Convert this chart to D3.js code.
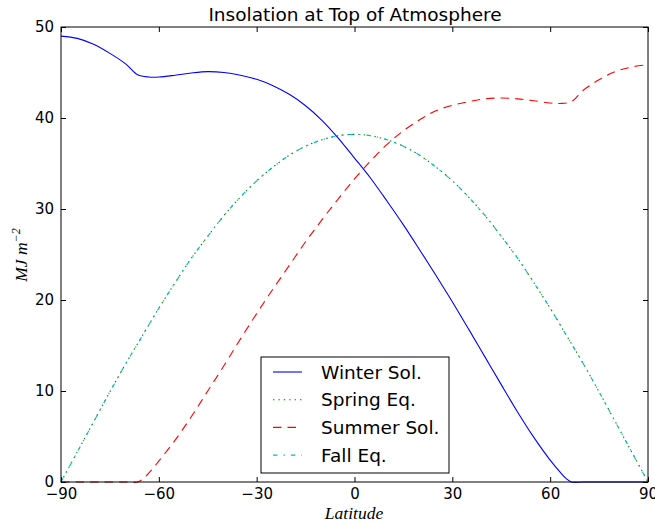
<!DOCTYPE html>
<html>
<head>
<meta charset="utf-8">
<script src="https://cdn.jsdelivr.net/npm/d3@7"></script>
<style>
  body { margin: 0; background: #fff; }
  text { font-family: "DejaVu Sans", sans-serif; fill: #000; }
  .math { font-family: "Liberation Serif", "DejaVu Serif", serif; font-style: italic; }
</style>
</head>
<body>
<script>
'use strict';

// latitudes for the equinox curves
const lat5 = [-90, -85, -80, -75, -70, -65, -60, -55, -50, -45, -40, -35, -30, -25, -20, -15, -10, -5,
    0, 5, 10, 15, 20, 25, 30, 35, 40, 45, 50, 55, 60, 65, 70, 75, 80, 85, 90];

const winterLat = [-90, -85, -80, -75, -70, -66.5, -63, -60, -55, -50, -45, -40, -35, -30, -25, -20, -15, -10, -5,
    0, 5, 10, 15, 20, 25, 30, 35, 40, 45, 50, 55, 60, 63, 65, 66.5, 70, 75, 80, 85, 90];
const winterSol = [49.0, 48.75, 48.1, 47.1, 45.9, 44.75, 44.5, 44.5, 44.7, 44.95, 45.1, 45.0, 44.7, 44.25, 43.55, 42.6, 41.35, 39.75, 37.8,
    35.6, 33.35, 30.85, 28.25, 25.5, 22.7, 19.8, 16.8, 13.75, 10.7, 7.7, 4.9, 2.4, 1.1, 0.35, 0, 0, 0, 0, 0, 0];

const summerLat = [-90, -85, -80, -75, -70, -66.5, -65, -63, -60, -55, -50, -45, -40, -35, -30, -25, -20, -15, -10, -5,
    0, 5, 10, 15, 20, 25, 30, 35, 40, 45, 50, 55, 60, 63, 66.5, 70, 75, 80, 85, 90];
const summerSol = [0, 0, 0, 0, 0, 0, 0.3, 1.0, 2.3, 4.6, 7.2, 10.0, 12.8, 15.7, 18.5, 21.2, 23.8, 26.4, 28.8, 31.1,
    33.3, 35.3, 37.1, 38.6, 39.8, 40.8, 41.4, 41.8, 42.1, 42.2, 42.1, 41.9, 41.65, 41.6, 41.8, 43.0, 44.2, 45.1, 45.6, 45.85];

const springEq = [0, 3.3, 6.6, 9.9, 13.1, 16.1, 19.1, 21.9, 24.6, 27.0, 29.3, 31.3, 33.1, 34.6, 35.9, 36.9, 37.6, 38.05,
    38.2, 38.05, 37.6, 36.9, 35.9, 34.6, 33.1, 31.3, 29.3, 27.0, 24.6, 21.9, 19.1, 16.1, 13.1, 9.9, 6.6, 3.3, 0];
const fallEq = [0, 3.3, 6.6, 9.9, 13.1, 16.1, 19.1, 21.9, 24.6, 27.0, 29.3, 31.3, 33.1, 34.6, 35.9, 36.9, 37.6, 38.05,
    38.2, 38.05, 37.6, 36.9, 35.9, 34.6, 33.1, 31.3, 29.3, 27.0, 24.6, 21.9, 19.1, 16.1, 13.1, 9.9, 6.6, 3.3, 0];

const xTicks = [-90, -60, -30, 0, 30, 60, 90];
const yTicks = [0, 10, 20, 30, 40, 50];

const seriesNames = ["Winter Sol.", "Spring Eq.", "Summer Sol.", "Fall Eq."];

(function () {

    // plot box
    const left = 61, right = 648, top = 27, bottom = 482;

    const svg = d3.select('body')
        .append('svg')
        .attr('width', 655)
        .attr('height', 524);

    const xScale = d3.scaleLinear().domain([-90, 90]).range([left, right]);
    const yScale = d3.scaleLinear().domain([0, 50]).range([bottom, top]);

    // line styles, matplotlib classic look
    const styles = [
        { color: '#0000ff', dash: null },
        { color: '#008000', dash: '1.4,4' },
        { color: '#ff0000', dash: '8.5,6' },
        { color: '#00bfbf', dash: '4.5,6,1.4,6' }
    ];

    const series = [
        { lat: winterLat, val: winterSol },
        { lat: lat5, val: springEq },
        { lat: summerLat, val: summerSol },
        { lat: lat5, val: fallEq }
    ];

    const line = d3.line()
        .x(d => xScale(d[0]))
        .y(d => yScale(d[1]))
        .curve(d3.curveCatmullRom.alpha(0.5));

    series.forEach((s, i) => {
        let pts = s.lat.map((l, j) => [l, s.val[j]]);
        svg.append('path')
            .attr('d', line(pts))
            .attr('fill', 'none')
            .attr('stroke', styles[i].color)
            .attr('stroke-width', 1.1)
            .attr('stroke-dasharray', styles[i].dash);
    });

    // axes with inward ticks on all four sides
    const fmt = d3.format('');
    svg.append('g')
        .attr('transform', `translate(0, ${bottom})`)
        .call(d3.axisBottom(xScale).tickValues(xTicks).tickFormat(fmt)
            .tickSizeInner(-5).tickSizeOuter(0).tickPadding(6));
    svg.append('g')
        .attr('transform', `translate(0, ${top})`)
        .call(d3.axisTop(xScale).tickValues(xTicks).tickFormat('')
            .tickSizeInner(-5).tickSizeOuter(0));
    svg.append('g')
        .attr('transform', `translate(${left}, 0)`)
        .call(d3.axisLeft(yScale).tickValues(yTicks).tickFormat(fmt)
            .tickSizeInner(-5).tickSizeOuter(0).tickPadding(7));
    svg.append('g')
        .attr('transform', `translate(${right}, 0)`)
        .call(d3.axisRight(yScale).tickValues(yTicks).tickFormat('')
            .tickSizeInner(-5).tickSizeOuter(0));

    svg.selectAll('.domain').remove();
    svg.selectAll('.tick line').attr('stroke', '#000');
    svg.selectAll('.tick text')
        .style('font-family', '"DejaVu Sans", sans-serif')
        .style('font-size', '15px')
        .attr('fill', '#000');

    // frame
    svg.append('rect')
        .attr('x', left)
        .attr('y', top)
        .attr('width', right - left)
        .attr('height', bottom - top)
        .attr('fill', 'none')
        .attr('stroke', '#000')
        .attr('stroke-width', 1);

    // title and axis labels
    svg.append('text')
        .attr('x', 355)
        .attr('y', 21)
        .attr('text-anchor', 'middle')
        .style('font-size', '18.5px')
        .text('Insolation at Top of Atmosphere');

    svg.append('text')
        .attr('class', 'math')
        .attr('x', 354)
        .attr('y', 519)
        .attr('text-anchor', 'middle')
        .style('font-size', '17.5px')
        .text('Latitude');

    const yLab = svg.append('text')
        .attr('class', 'math')
        .attr('transform', 'translate(27, 255)rotate(-90)')
        .attr('text-anchor', 'middle')
        .style('font-size', '17.5px');
    yLab.append('tspan').text('MJ m');
    yLab.append('tspan')
        .attr('dy', -7)
        .style('font-size', '12px')
        .text('\u22122');

    // legend
    const lg = svg.append('g').attr('transform', 'translate(261, 357)');
    lg.append('rect')
        .attr('width', 188)
        .attr('height', 116)
        .attr('fill', '#fff')
        .attr('stroke', '#000')
        .attr('stroke-width', 1);

    seriesNames.forEach((name, i) => {
        let cy = 15 + i * 27.7;
        lg.append('line')
            .attr('x1', 12).attr('x2', 41)
            .attr('y1', cy).attr('y2', cy)
            .attr('stroke', styles[i].color)
            .attr('stroke-width', 1.1)
            .attr('stroke-dasharray', styles[i].dash);
        lg.append('text')
            .attr('x', 60)
            .attr('y', cy)
            .attr('dy', '0.36em')
            .style('font-size', '18.5px')
            .text(name);
    });

})();
</script>
</body>
</html>
